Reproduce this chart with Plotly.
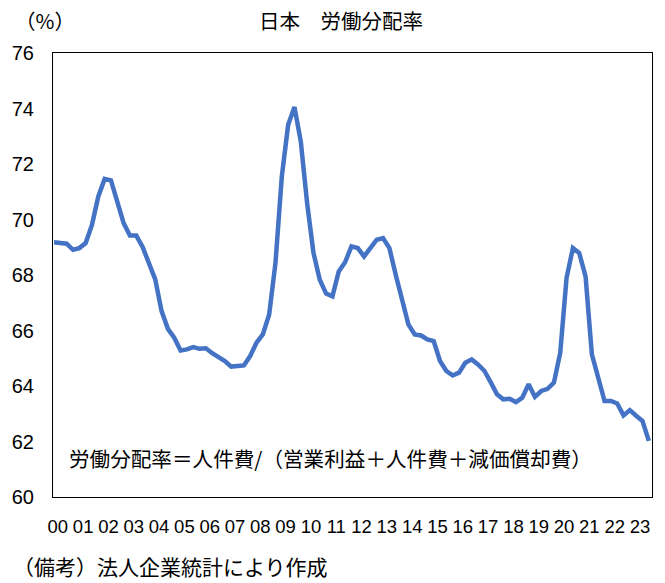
import plotly.graph_objects as go

# Quarterly labour share (%), 2000Q1 .. 2023Q3
labour_share = [
    69.18, 69.15, 69.13, 68.91, 68.97, 69.15, 69.81, 70.83, 71.46, 71.41,
    70.65, 69.87, 69.42, 69.42, 69.01, 68.44, 67.84, 66.70, 66.06, 65.74,
    65.28, 65.32, 65.40, 65.34, 65.36, 65.18, 65.03, 64.90, 64.70, 64.71,
    64.74, 65.08, 65.56, 65.86, 66.58, 68.44, 71.55, 73.41, 74.05, 72.81,
    70.59, 68.80, 67.83, 67.33, 67.23, 68.13, 68.46, 69.03, 68.97, 68.67,
    68.94, 69.27, 69.33, 68.97, 68.01, 67.18, 66.22, 65.86, 65.82, 65.68,
    65.62, 64.90, 64.54, 64.38, 64.48, 64.84, 64.96, 64.78, 64.55, 64.14,
    63.70, 63.52, 63.54, 63.42, 63.58, 64.06, 63.61, 63.82, 63.90, 64.12,
    65.20, 67.90, 68.97, 68.79, 67.95, 65.14, 64.24, 63.46, 63.46, 63.37,
    62.94, 63.13, 62.93, 62.74, 62.02,
]
quarter_index = list(range(len(labour_share)))
year_labels = [f"{y:02d}" for y in range(0, 24)]
year_tick_positions = [4 * i + 0.6 for i in range(len(year_labels))]
y_ticks = [60, 62, 64, 66, 68, 70, 72, 74, 76]

title_text = "日本　労働分配率"
unit_text = "（%）"
formula_text = "労働分配率＝人件費/（営業利益＋人件費＋減価償却費）"
note_text = "（備考）法人企業統計により作成"

W, H = 665, 583
L, R, T, B = 48, 12, 53, 86
pw, ph = W - L - R, H - T - B

def px_x(x):
    return (x - L) / pw

def px_y(y):
    return (H - B - y) / ph

num_font = "Liberation Sans Narrow, Arial Narrow, Liberation Sans, Arial, sans-serif"
jp_font = "Noto Sans CJK JP, sans-serif"

fig = go.Figure()
fig.add_trace(go.Scatter(
    x=quarter_index, y=labour_share, mode="lines",
    line=dict(color="#4472C4", width=4.5),
    hoverinfo="skip", showlegend=False,
))

fig.update_layout(
    width=W, height=H,
    margin=dict(l=L, r=R, t=T, b=B),
    paper_bgcolor="white", plot_bgcolor="white",
    xaxis=dict(
        range=[-0.16, 94.5], tickvals=year_tick_positions, ticktext=year_labels,
        showgrid=False, zeroline=False, showline=True, mirror=True,
        linecolor="black", linewidth=1, ticks="",
        tickfont=dict(family=num_font, size=18.5, color="black"),
        ticklabelstandoff=13,
    ),
    yaxis=dict(
        range=[60, 76], tickvals=y_ticks,
        showgrid=False, zeroline=False, showline=True, mirror=True,
        linecolor="black", linewidth=1, ticks="",
        tickfont=dict(family=num_font, size=20, color="black"),
        ticklabelstandoff=14,
    ),
    annotations=[
        dict(text=title_text, x=px_x(339), y=px_y(20), xref="paper", yref="paper",
             xanchor="center", yanchor="middle", showarrow=False,
             font=dict(family=jp_font, size=20.5, color="black")),
        dict(text=unit_text, x=px_x(8), y=px_y(20), xref="paper", yref="paper",
             xanchor="left", yanchor="middle", showarrow=False,
             font=dict(family=jp_font, size=20.5, color="black")),
        dict(text=formula_text, x=px_x(62), y=px_y(458), xref="paper", yref="paper",
             xanchor="left", yanchor="middle", showarrow=False,
             font=dict(family=jp_font, size=20.6, color="black")),
        dict(text=note_text, x=px_x(6), y=px_y(566), xref="paper", yref="paper",
             xanchor="left", yanchor="middle", showarrow=False,
             font=dict(family=jp_font, size=21, color="black")),
    ],
)

fig.write_html("out.html")
